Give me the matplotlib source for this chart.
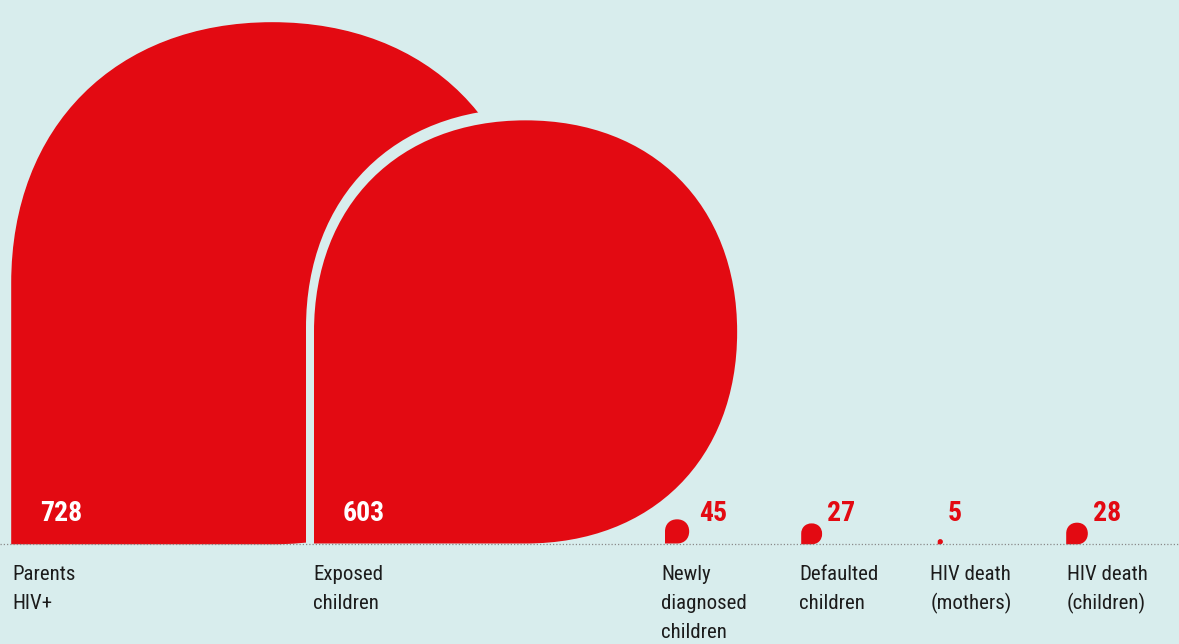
import matplotlib
matplotlib.use("Agg")
import matplotlib.pyplot as plt
from matplotlib.path import Path
from matplotlib.patches import PathPatch

# ---- data ----
categories = ["Parents\nHIV+", "Exposed\nchildren", "Newly\ndiagnosed\nchildren",
              "Defaulted\nchildren", "HIV death\n(mothers)", "HIV death\n(children)"]
values = [728, 603, 45, 27, 5, 28]

# ---- layout / style ----
W, H = 1179, 644
BG = "#d8eded"
RED = "#e30a12"
TXT = "#1c1c1c"
BASE_Y = 543.5
PX_PER_UNIT = 0.715
KAPPA = 0.60          # corner roundness (0.552 = circle)
shape_left = [12, 310, 661, 802, 938.5, 1067]
label_left = [12, 313, 661, 799, 930.5, 1067]
halo_px = 8           # background-coloured outline on a shape overlapping its neighbour
edge_px = 1.6

px_to_pt = 72 / 100

fig = plt.figure(figsize=(W / 100, H / 100), dpi=100, facecolor=BG)
ax = fig.add_axes([0, 0, 1, 1])
ax.set_facecolor(BG)
ax.set_xlim(0, W)
ax.set_ylim(H, 0)
ax.axis("off")


def drop_path(x0, yb, s):
    r = s / 2
    k = KAPPA * r
    cx, cy, top, right = x0 + r, yb - r, yb - s, x0 + s
    v = [(x0, yb), (x0, cy),
         (x0, cy - k), (cx - k, top), (cx, top),
         (cx + k, top), (right, cy - k), (right, cy),
         (right, cy + k), (cx + k, yb), (cx, yb),
         (x0, yb)]
    c = [Path.MOVETO, Path.LINETO] + [Path.CURVE4] * 9 + [Path.CLOSEPOLY]
    return Path(v, c)


for i, (v, x0) in enumerate(zip(values, shape_left)):
    s = v * PX_PER_UNIT
    overlaps = i > 0 and shape_left[i - 1] + values[i - 1] * PX_PER_UNIT > x0
    if overlaps:
        # outline of the shape in background colour (centred on the outline)
        ax.add_patch(PathPatch(drop_path(x0, BASE_Y, s), facecolor=BG, edgecolor=BG,
                               linewidth=halo_px * px_to_pt, zorder=2 + 2 * i))
        h = halo_px / 2
        ax.add_patch(PathPatch(drop_path(x0 + h, BASE_Y, s - 2 * h), facecolor=RED,
                               edgecolor="none", zorder=3 + 2 * i))
        fill_left = x0 + h
    else:
        ax.add_patch(PathPatch(drop_path(x0, BASE_Y, s), facecolor=RED, edgecolor=RED,
                               linewidth=edge_px * px_to_pt, zorder=3 + 2 * i))
        fill_left = x0
    if s > 100:
        ax.text(fill_left + 28.5, 521, str(v), color="white", fontsize=20,
                fontfamily="Roboto Condensed", fontweight="bold",
                ha="left", va="baseline", zorder=40)
    else:
        ax.text(x0 + s + 5.5, 521, str(v), color=RED, fontsize=20,
                fontfamily="Roboto Condensed", fontweight="bold",
                ha="left", va="baseline", zorder=40)

# baseline
ax.plot([0, W], [BASE_Y + 0.5, BASE_Y + 0.5], color="#8a8a8a", lw=0.9,
        linestyle=(0, (1, 1.6)), zorder=50, solid_capstyle="butt")

# category labels
for lab, x in zip(categories, label_left):
    for j, line in enumerate(lab.split("\n")):
        ax.text(x, 580 + 29 * j, line, color=TXT, fontsize=15,
                fontfamily="Roboto Condensed", ha="left", va="baseline")

fig.savefig("out.png", dpi=100, facecolor=BG)
